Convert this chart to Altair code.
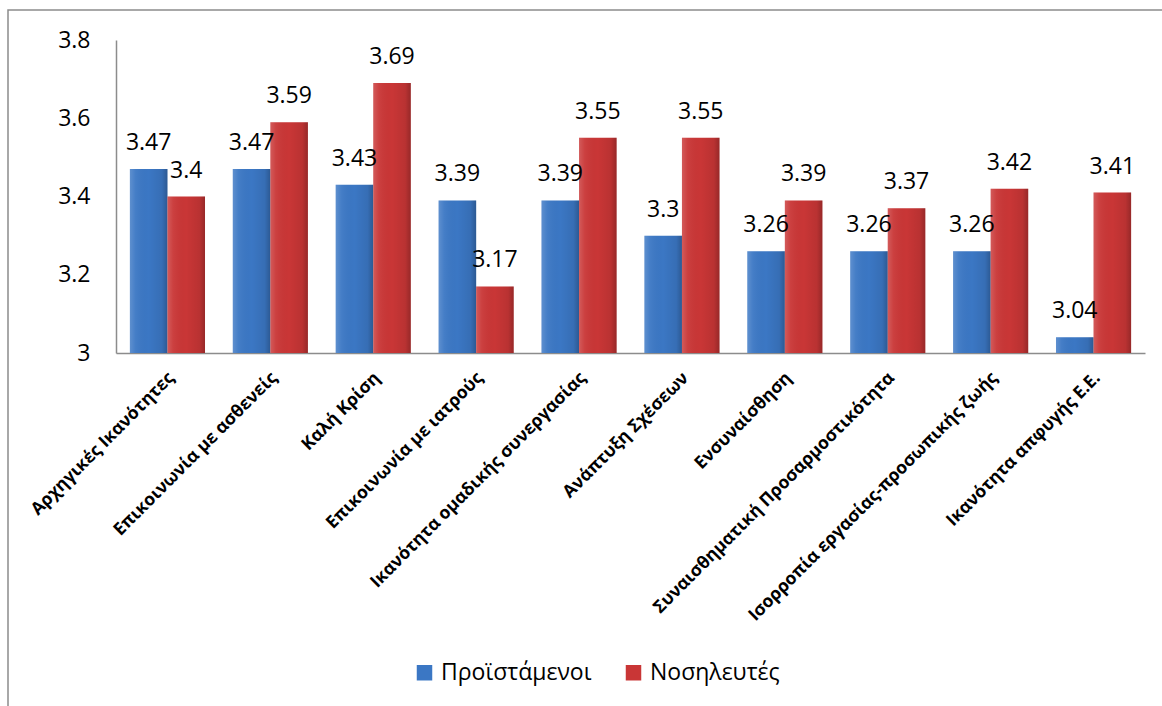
import altair as alt
import pandas as pd

categories = [
    "Αρχηγικές Ικανότητες",
    "Επικοινωνία με ασθενείς",
    "Καλή Κρίση",
    "Επικοινωνία με ιατρούς",
    "Ικανότητα ομαδικής συνεργασίας",
    "Ανάπτυξη Σχέσεων",
    "Ενσυναίσθηση",
    "Συναισθηματική Προσαρμοστικότητα",
    "Ισορροπία εργασίας-προσωπικής ζωής",
    "Ικανότητα απφυγής Ε.Ε.",
]
series = ["Προϊστάμενοι", "Νοσηλευτές"]
supervisors = [3.47, 3.47, 3.43, 3.39, 3.39, 3.3, 3.26, 3.26, 3.26, 3.04]
nurses = [3.4, 3.59, 3.69, 3.17, 3.55, 3.55, 3.39, 3.37, 3.42, 3.41]
colors = ["#3b77c4", "#c93636"]

rows = []
for c, a, b in zip(categories, supervisors, nurses):
    rows.append({"cat": c, "series": series[0], "value": a, "label": str(a)})
    rows.append({"cat": c, "series": series[1], "value": b, "label": str(b)})
df = pd.DataFrame(rows)

FONT = "Open Sans"
W, H = 1029, 313
PL, PT, PR, PB = 116, 40, 17, 353

x_enc = alt.X(
    "cat:N",
    sort=categories,
    scale=alt.Scale(paddingInner=0.27, paddingOuter=0.135),
    axis=alt.Axis(
        title=None,
        labelAngle=-45,
        labelAlign="right",
        labelBaseline="middle",
        labelFont=FONT,
        labelFontSize=17.5,
        labelFontWeight="bold",
        labelColor="#000000",
        labelPadding=22,
        labelOffset=4,
        ticks=False,
        domainColor="#8c8c8c",
        domainWidth=1.5,
        labelLimit=500,
    ),
)
xo_enc = alt.XOffset("series:N", sort=series, scale=alt.Scale(paddingInner=0, paddingOuter=0))
y_enc = alt.Y(
    "value:Q",
    scale=alt.Scale(domain=[3, 3.8], zero=False, nice=False),
    axis=alt.Axis(
        title=None,
        values=[3, 3.2, 3.4, 3.6, 3.8],
        labelExpr="datum.value == 3 ? '3' : format(datum.value, '.1f')",
        grid=False,
        ticks=False,
        labelFont=FONT,
        labelFontSize=23,
        labelColor="#000000",
        labelPadding=26,
        domainColor="#8c8c8c",
        domainWidth=1.5,
    ),
)

base = alt.Chart(df)

bars = base.mark_bar(clip=True).encode(
    x=x_enc,
    xOffset=xo_enc,
    y=y_enc,
    color=alt.Color(
        "series:N",
        sort=series,
        scale=alt.Scale(domain=series, range=colors),
        legend=alt.Legend(
            title=None,
            orient="none",
            direction="horizontal",
            legendX=297,
            legendY=621,
            symbolType="square",
            symbolSize=240,
            symbolStrokeWidth=0,
            labelFont=FONT,
            labelFontSize=23,
            labelColor="#000000",
            columnPadding=30,
            labelOffset=5,
        ),
    ),
)

shade = base.mark_bar(
    clip=True,
    fill=alt.Gradient(
        gradient="linear",
        x1=0, x2=1, y1=0, y2=0,
        stops=[
            alt.GradientStop(color="rgba(255,255,255,0.18)", offset=0),
            alt.GradientStop(color="rgba(255,255,255,0.05)", offset=0.15),
            alt.GradientStop(color="rgba(0,0,0,0.0)", offset=0.5),
            alt.GradientStop(color="rgba(0,0,0,0.08)", offset=0.85),
            alt.GradientStop(color="rgba(0,0,0,0.25)", offset=1),
        ],
    ),
).encode(x=x_enc, xOffset=xo_enc, y=y_enc)

vshade = base.mark_bar(
    clip=True,
    fill=alt.Gradient(
        gradient="linear",
        x1=0, x2=0, y1=0, y2=1,
        stops=[
            alt.GradientStop(color="rgba(255,255,255,0.0)", offset=0),
            alt.GradientStop(color="rgba(0,0,0,0.0)", offset=0.6),
            alt.GradientStop(color="rgba(0,0,0,0.15)", offset=1),
        ],
    ),
).encode(x=x_enc, xOffset=xo_enc, y=y_enc)

labels = base.mark_text(
    font=FONT, fontSize=23, color="#000000", baseline="alphabetic", dy=-19
).encode(
    x=x_enc,
    xOffset=xo_enc,
    y=y_enc,
    text="label:N",
)

frame = alt.Chart(pd.DataFrame({"a": [0]})).mark_rect(
    fill=None, stroke="#8c8c8c", strokeWidth=1.5, clip=False
).encode(
    x=alt.value(8 - PL),
    x2=alt.value(1180 - PL),
    y=alt.value(10 - PT),
    y2=alt.value(730 - PT),
)

chart = alt.layer(frame, bars, shade, vshade, labels).properties(
    width=W,
    height=H,
    autosize=alt.AutoSizeParams(type="none"),
    padding={"left": PL, "top": PT, "right": PR, "bottom": PB},
    background="#ffffff",
).configure_view(stroke=None)

chart.save("out.html", embed_options={"renderer": "svg", "actions": False})
